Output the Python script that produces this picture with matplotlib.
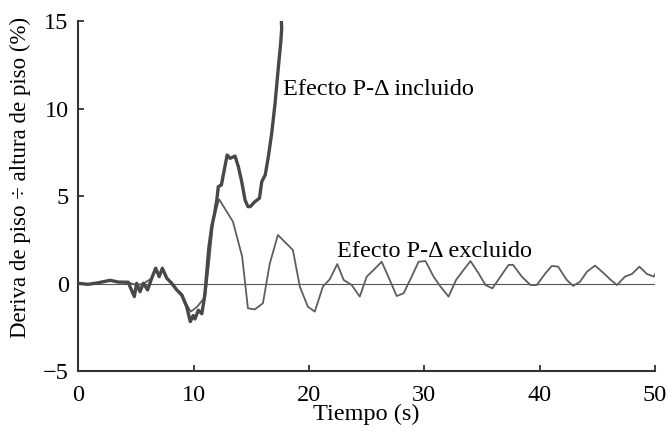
import numpy as np
import matplotlib
matplotlib.use("Agg")
import matplotlib.pyplot as plt

# drift ratio history, P-Delta excluded (thin line)
t_excl = [0, 0.83, 1.73, 2.74, 3.46, 4.33, 5.0, 5.6, 6.3, 6.7, 7.0, 7.28, 7.7, 8.1,
          8.5, 9.0, 9.4, 9.75, 10.3, 11.0, 11.3, 11.7, 12.2, 13.4, 14.2, 14.7, 15.3,
          16.0, 16.6, 17.3, 18.6, 19.2, 19.9, 20.5, 21.2, 21.8, 22.45, 23.0, 23.7,
          24.4, 25.0, 25.6, 26.3, 27.0, 27.6, 28.2, 28.9, 29.5, 30.1, 30.8, 31.4,
          32.1, 32.75, 33.4, 34.0, 34.7, 35.3, 35.9, 36.6, 37.3, 37.7, 38.45, 39.2,
          39.75, 40.5, 41.05, 41.6, 42.35, 42.9, 43.5, 44.1, 44.8, 45.5, 46.1, 46.7,
          47.4, 48.0, 48.65, 49.3, 49.9, 50.0]
d_excl = [0.04, -0.02, 0.07, 0.21, 0.11, 0.08, -0.05, 0.0, 0.3, 0.85, 0.55, 0.85, 0.35, 0.05,
          -0.3, -0.6, -1.2, -1.58, -1.3, -0.72, 1.0, 3.66, 4.84, 3.56, 1.56, -1.39, -1.45,
          -1.1, 1.18, 2.8, 1.94, -0.15, -1.3, -1.58, -0.15, 0.27, 1.14, 0.23, -0.06,
          -0.72, 0.42, 0.8, 1.27, 0.23, -0.69, -0.53, 0.42, 1.27, 1.31, 0.42, -0.15,
          -0.72, 0.23, 0.8, 1.31, 0.61, -0.06, -0.25, 0.42, 1.09, 1.09, 0.42, -0.06,
          -0.06, 0.61, 1.03, 0.99, 0.23, -0.11, 0.13, 0.7, 1.05, 0.65, 0.27, -0.06,
          0.42, 0.57, 0.99, 0.57, 0.42, 0.55]

# drift ratio history, P-Delta included (thick line, collapses)
t_incl = [0, 0.83, 1.73, 2.74, 3.46, 4.33, 4.47, 4.85, 5.05, 5.34, 5.63, 6.0, 6.3, 6.7,
          7.0, 7.28, 7.66, 8.09, 8.53, 8.96, 9.39, 9.7, 9.95, 10.1, 10.4, 10.7, 10.9,
          11.0, 11.3, 11.56, 11.8, 12.0, 12.13, 12.4, 12.7, 12.9, 13.15, 13.58, 13.87,
          14.16, 14.45, 14.7, 14.9, 15.3, 15.7, 15.9, 16.2, 16.47, 16.76, 17.05, 17.34,
          17.54, 17.63, 17.6]
d_incl = [0.04, -0.02, 0.07, 0.21, 0.11, 0.1, -0.15, -0.72, 0.04, -0.44, 0.04, -0.34, 0.23, 0.9,
          0.42, 0.9, 0.33, 0.04, -0.34, -0.63, -1.3, -2.15, -1.8, -2.0, -1.5, -1.7, -0.9,
          -0.34, 2.0, 3.27, 4.0, 4.8, 5.56, 5.66, 6.7, 7.37, 7.18, 7.31, 6.7,
          5.85, 4.8, 4.42, 4.42, 4.7, 4.9, 5.85, 6.23, 7.27, 8.6, 10.3, 12.4,
          13.75, 14.6, 15.0]

x_ticks = [0, 10, 20, 30, 40, 50]
y_ticks = [-5, 0, 5, 10, 15]

plt.rcParams['font.family'] = ['Liberation Serif', 'DejaVu Serif']
plt.rcParams['font.size'] = 17.5
plt.rcParams['axes.unicode_minus'] = True

fig = plt.figure(figsize=(6.68, 4.36), dpi=100)
ax = fig.add_axes([0.1174, 0.148, 0.8631, 0.8027])

ax.axhline(0, color='#555555', lw=0.8, zorder=1)
ax.plot(t_excl, d_excl, color='#5e5e5e', lw=1.3, zorder=2)
ax.plot(t_incl, d_incl, color='#484848', lw=2.4, zorder=3,
        solid_joinstyle='round')

ax.text(17.72, 10.8, 'Efecto P-\u0394 incluido', ha='left', va='baseline')
ax.text(22.4, 1.53, 'Efecto P-\u0394 excluido', ha='left', va='baseline')

ax.set_xlim(0, 50)
ax.set_ylim(-5, 15)
ax.set_xticks(x_ticks)
ax.set_yticks(y_ticks)
ax.set_xlabel('Tiempo (s)', labelpad=-1.5)
ax.set_ylabel('Deriva de piso \u00f7 altura de piso (%)', fontsize=16.5)
ax.yaxis.set_label_coords(-0.083, 0.554)

for s in ['top', 'right']:
    ax.spines[s].set_visible(False)
for s in ['left', 'bottom']:
    ax.spines[s].set_linewidth(1.5)
    ax.spines[s].set_color('#333333')
ax.tick_params(direction='in', length=4, width=1.3, color='#333333', pad=7)
ax.tick_params(axis='x', pad=10)

fig.savefig('out.png', dpi=100, facecolor='white')
